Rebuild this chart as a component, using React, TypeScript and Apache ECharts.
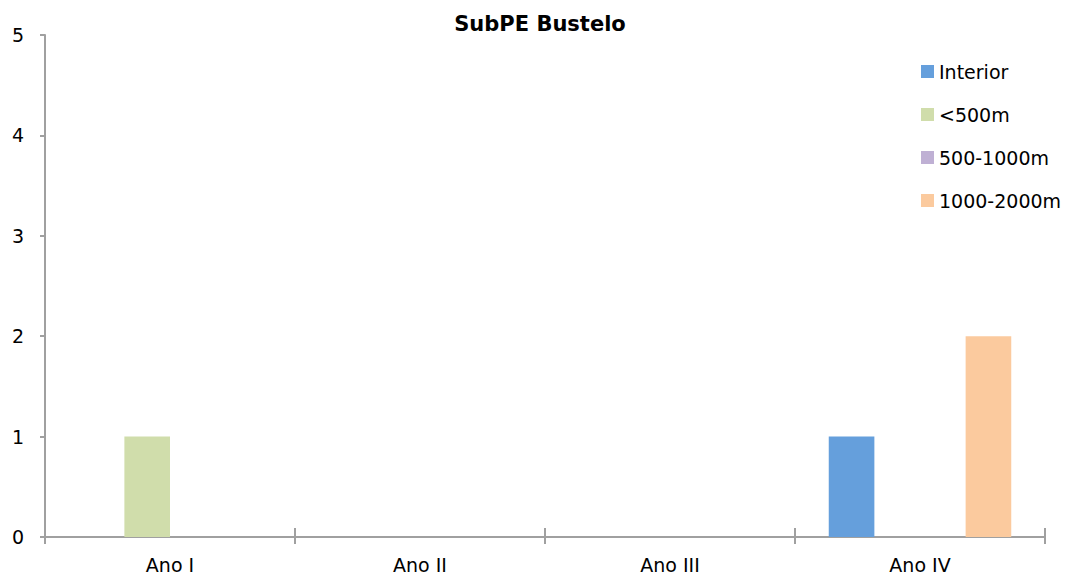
import React, { useEffect, useRef } from "react";
import * as echarts from "echarts";

const categories = ["Ano I", "Ano II", "Ano III", "Ano IV"];
const seriesNames = ["Interior", "<500m", "500-1000m", "1000-2000m"];
const interior = [0, 0, 0, 1];
const under500 = [1, 0, 0, 0];
const m500to1000 = [0, 0, 0, 0];
const m1000to2000 = [0, 0, 0, 2];
const colors = ["#659fdc", "#d0ddab", "#bfb0d4", "#fbca9e"];
const yTicks = [0, 1, 2, 3, 4, 5];

const FONT = "DejaVu Sans";
const AXIS = "#a0a0a0";

export default function App() {
  const ref = useRef<HTMLDivElement>(null);
  useEffect(() => {
    if (!ref.current) return;
    const chart = echarts.init(ref.current, undefined, { renderer: "svg" });
    const values = [interior, under500, m500to1000, m1000to2000];
    chart.setOption({
      animation: false,
      textStyle: { fontFamily: FONT },
      title: {
        text: "SubPE Bustelo",
        left: 535,
        textAlign: "center",
        top: 8,
        textStyle: { fontFamily: FONT, fontSize: 21, fontWeight: "bold", color: "#000" },
      },
      legend: {
        orient: "vertical",
        left: 916,
        top: 57,
        itemWidth: 13,
        itemHeight: 13,
        itemGap: 24,
        icon: "rect",
        data: seriesNames,
        textStyle: { fontFamily: FONT, fontSize: 19, color: "#000", lineHeight: 19 },
      },
      grid: { left: 45, right: 23, top: 35, bottom: 39, containLabel: false },
      xAxis: [
        {
          type: "category",
          data: categories,
          axisLine: { show: true, lineStyle: { color: AXIS, width: 2 } },
          axisTick: { show: true, length: 7, lineStyle: { color: AXIS, width: 2 } },
          axisLabel: { fontFamily: FONT, fontSize: 19, color: "#000", margin: 18 },
        },
        {
          type: "category",
          data: categories,
          position: "bottom",
          axisLine: { show: false },
          axisTick: { show: true, inside: true, length: 9, lineStyle: { color: AXIS, width: 2 } },
          axisLabel: { show: false },
        },
      ],
      yAxis: {
        type: "value",
        min: yTicks[0],
        max: yTicks[yTicks.length - 1],
        interval: 1,
        splitLine: { show: false },
        axisLine: { show: true, lineStyle: { color: AXIS, width: 2 } },
        axisTick: { show: true, length: 5, lineStyle: { color: AXIS, width: 2 } },
        axisLabel: { fontFamily: FONT, fontSize: 19, color: "#000", margin: 21 },
      },
      series: seriesNames.map((name, i) => ({
        name,
        type: "bar",
        data: values[i],
        barGap: "0%",
        barCategoryGap: "27%",
        itemStyle: { color: colors[i] },
      })),
    });
    return () => chart.dispose();
  }, []);
  return (
    <div
      ref={ref}
      style={{ position: "fixed", left: 0, top: 0, width: 1068, height: 576, background: "#fff" }}
    />
  );
}
